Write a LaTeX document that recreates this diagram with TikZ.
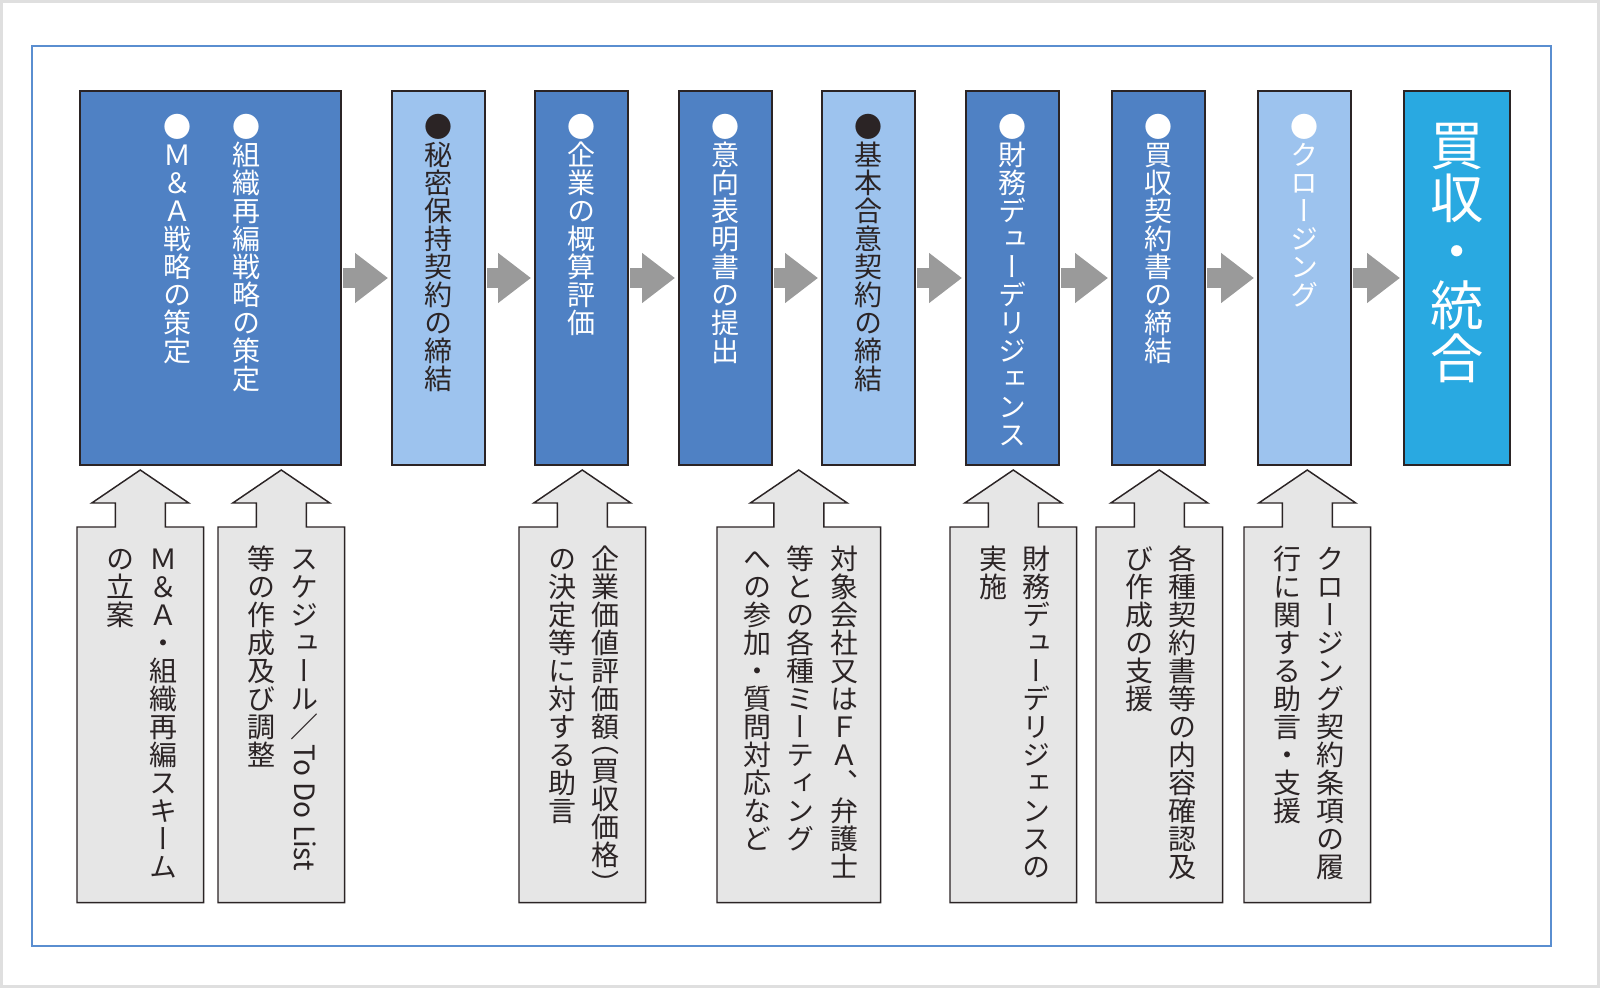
\documentclass[tikz,border=0pt]{standalone}
\usepackage{fontspec}
\usepackage{graphicx}
\usetikzlibrary{calc,arrows.meta}

\newfontfamily\jpfont{Noto Sans CJK JP}[RawFeature=+vert]

\definecolor{stepdark}{HTML}{4F81C4}
\definecolor{steplight}{HTML}{9DC3EE}
\definecolor{stepgoal}{HTML}{29A9E1}
\definecolor{flowgray}{HTML}{9A9A9A}
\definecolor{notegray}{HTML}{E6E6E6}
\definecolor{edgeblack}{HTML}{2B2425}
\definecolor{frameblue}{HTML}{5A8ED0}

% vertical (tategaki) setting
\newif\iftatefree
\newsavebox\tatebx
\newbox\tateacc
\newcommand*{\yoko}[1]{\global\tatefreetrue\rotatebox[origin=c]{-90}{\kern.12em#1\kern.12em}}
\newcommand*{\hanp}[2]{\global\tatefreetrue\vrule height.28em depth.28em width0pt\raisebox{#2}{\smash{#1}}}
\newcommand*{\tateitem}[1]{%
  \global\tatefreefalse
  \sbox\tatebx{#1}%
  \hbox to 1em{\hss
    \iftatefree\usebox\tatebx
    \else\vrule height.88em depth.12em width0pt\smash{\usebox\tatebx}\fi
  \hss}}
\def\tateloop#1{\ifx\relax#1\else\tateitem{#1}\expandafter\tateloop\fi}
\newcommand*{\tatecol}[1]{\vtop{\offinterlineskip\tateloop#1\relax}}
\def\tatecols#1{\ifx\relax#1\else
  \setbox\tateacc\hbox{\tatecol{#1}\ifdim\wd\tateacc>0pt\hskip\tategap\fi\unhbox\tateacc}%
  \expandafter\tatecols\fi}
\newcommand*{\tate}[2][.55em]{%
  \setbox\tateacc\hbox{}%
  \def\tategap{#1}%
  \tatecols#2\relax
  \box\tateacc}

\begin{document}
\begin{tikzpicture}[
    x=0.75pt, y=-0.75pt,
    stepbox/.style={draw=edgeblack, line width=1.5pt, anchor=north west,
      minimum height=280.5pt, inner sep=0},
    flowarrow/.style={flowgray, line width=15pt,
      -{Triangle[length=24.75pt, width=36pt]}, shorten <=1pt, shorten >=2.25pt},
    notebox/.style={anchor=north west, minimum height=281.25pt, inner sep=0},
    noteshape/.style={fill=notegray, draw=edgeblack, line width=1.1pt},
    tatetext/.style={anchor=north, inner sep=0, text=edgeblack,
      font=\jpfont\fontsize{21}{21}\selectfont}
  ]
  \useasboundingbox (0,0) rectangle (1600,988);
  \draw[gray!25, line width=2.25pt] (1.5,1.5) rectangle (1598.5,986.5);
  \draw[frameblue, line width=1.6pt] (32,46) rectangle (1551,946);

  % steps
  \foreach \n/\l/\r/\c in {b1/79/340/stepdark, b2/391/484/steplight,
      b3/534/627/stepdark, b4/678/771/stepdark, b5/821/914/steplight,
      b6/965/1058/stepdark, b7/1111/1204/stepdark, b8/1257/1350/steplight,
      b9/1403/1509/stepgoal} {
    \node[stepbox, fill=\c, minimum width={0.75pt*(\r-\l)}] (\n) at (\l,90) {};
  }
  \foreach \a/\b in {b1/b2, b2/b3, b3/b4, b4/b5, b5/b6, b6/b7, b7/b8, b8/b9} {
    \draw[flowarrow] (\a.east) -- (\b.west);
  }

  \node[tatetext, text=white] (t1) at ($(b1.north)+(1.5,23)$)
    {\tate[1.43em]{{●組織再編戦略の策定}{●Ｍ＆Ａ戦略の策定}}};
  \node[tatetext] (t2) at ($(b2.north)+(0,23)$) {\tate{{●秘密保持契約の締結}}};
  \node[tatetext, text=white] (t3) at ($(b3.north)+(0,23)$) {\tate{{●企業の概算評価}}};
  \node[tatetext, text=white] (t4) at ($(b4.north)+(0,23)$) {\tate{{●意向表明書の提出}}};
  \node[tatetext] (t5) at ($(b5.north)+(0,23)$) {\tate{{●基本合意契約の締結}}};
  \node[tatetext, text=white] (t6) at ($(b6.north)+(0,23)$) {\tate{{●財務デューデリジェンス}}};
  \node[tatetext, text=white] (t7) at ($(b7.north)+(0,23)$) {\tate{{●買収契約書の締結}}};
  \node[tatetext, text=white] (t8) at ($(b8.north)+(0,23)$) {\tate{{●クロージング}}};
  \node[tatetext, text=white, font=\jpfont\fontsize{40}{40}\selectfont] (t9)
    at ($(b9.north)+(0,28)$) {\tate{{買収・統合}}};

  % support notes
  \foreach \n/\l/\r in {c1/77/203, c2/218/344, c3/519/645, c4/717/880,
      c5/950/1076, c6/1096/1222, c7/1244/1370} {
    \node[notebox, minimum width={0.75pt*(\r-\l)}] (\n) at (\l,527) {};
    \draw[noteshape] (\n.south west) -- (\n.north west) -- ($(\n.north)+(-25,0)$)
      -- ++(0,-24) -- ++(-23.5,0) -- ($(\n.north)+(0,-57)$)
      -- ($(\n.north)+(48.5,-24)$) -- ++(-23.5,0) -- ($(\n.north)+(25,0)$)
      -- (\n.north east) -- (\n.south east) -- cycle;
  }

  \node[tatetext] (n1) at ($(c1.north)+(2,18)$)
    {\tate{{Ｍ＆Ａ・組織再編スキーム}{の立案}}};
  \node[tatetext] (n2) at ($(c2.north)+(2,18)$)
    {\tate{{スケジュール／{\yoko{To Do List}}}{等の作成及び調整}}};
  \node[tatetext] (n3) at ($(c3.north)+(2,18)$)
    {\tate{{企業価値評価額{\hanp{（}{-.13em}}買収価格{\hanp{）}{-.63em}}}{の決定等に対する助言}}};
  \node[tatetext] (n4) at ($(c4.north)+(2,18)$)
    {\tate{{対象会社又はＦＡ、弁護士}{等との各種ミーティング}{への参加・質問対応など}}};
  \node[tatetext] (n5) at ($(c5.north)+(2,18)$)
    {\tate{{財務デューデリジェンスの}{実施}}};
  \node[tatetext] (n6) at ($(c6.north)+(2,18)$)
    {\tate{{各種契約書等の内容確認及}{び作成の支援}}};
  \node[tatetext] (n7) at ($(c7.north)+(2,18)$)
    {\tate{{クロージング契約条項の履}{行に関する助言・支援}}};
\end{tikzpicture}
\end{document}
